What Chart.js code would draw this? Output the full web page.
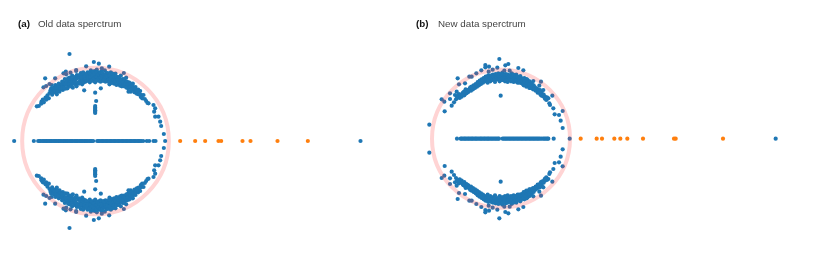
<!DOCTYPE html>
<html>
<head>
<meta charset="utf-8">
<title>Data spectrum</title>
<script src="https://cdn.jsdelivr.net/npm/chart.js@4/dist/chart.umd.min.js"></script>
<style>
  html, body { margin: 0; padding: 0; background: #fff; }
  #wrap { position: relative; width: 830px; height: 269px; overflow: hidden; }
  canvas { position: absolute; top: 0; }
  #chartA { left: 0; }
  #chartB { left: 415px; }
  .title { position: absolute; top: 18px; font: 9.8px "Liberation Sans", Arial, sans-serif; color: #444; white-space: nowrap; }
  .title b { color: #111; }
</style>
</head>
<body>
<div id="wrap">
  <canvas id="chartA" width="415" height="269"></canvas>
  <canvas id="chartB" width="415" height="269"></canvas>
  <div class="title" style="left:18px"><b>(a)</b></div>
  <div class="title" style="left:38px">Old data sperctrum</div>
  <div class="title" style="left:416px"><b>(b)</b></div>
  <div class="title" style="left:438px">New data sperctrum</div>
</div>
<script>
// values, eigenvalues come in conjugate pairs so upper and lower share Re
const aPairRe = [-176,-170,-163,-162,-158,-155,-150,-148,-144,-140,-138,-135,-133,-130,-127,-124,-120,-120,-116,-113,-110,-108,-104,-100,-98,-95,-92,-90,-88,-85,-82,-80,-78,-75,-72,-70,-68,-66,-62,-60,-58,-56,-52,-50,-46,-44,-40,-38,-36,-32,-30,-26,-24,-20,-18,-14,-12,-10,-6,-4,-2,0,2,4,8,10,12,14,18,20,22,26,28,30,32,36,38,42,44,46,50,52,56,58,60,64,66,70,72,76,80,82,86,88,92,96,98,100,104,106,110,112,116,120,124,128,130,134,138,144,148,152,156,159,174,179,176,179,189,194,197,205,-78,-5,10,19,41,85,-28,-34,16,-1,2,-1,-1,-1,-1,-1,-1,-151,-138,-121,-96,-89,-58,-156,-148,-131,99,119];
const aUpperIm = [104,105,112,118,124,116,130,124,137,128,144,152,158,139,150,160,168,146,140,156,172,148,163,178,153,168,186,157,200,174,164,182,190,205,170,196,160,180,188,170,210,198,176,190,182,204,170,196,186,200,178,192,206,184,198,212,188,204,180,196,210,186,200,214,190,206,180,196,210,186,200,192,212,178,204,188,198,170,190,206,180,196,172,188,202,178,192,170,184,196,172,186,164,178,190,166,158,176,168,148,160,172,152,162,142,154,146,150,138,138,126,120,114,113,108,98,88,73,73,58,45,21,261,237,232,218,223,204,224,152,158,145,120,105,100,96,92,88,84,188,171,188,203,208,213,161,165,168,148,151];
const aLowerIm = [-104,-105,-112,-118,-124,-116,-130,-124,-137,-128,-144,-152,-158,-139,-150,-160,-168,-146,-140,-156,-172,-148,-163,-178,-153,-168,-186,-157,-200,-174,-164,-182,-190,-205,-170,-196,-160,-180,-188,-170,-210,-198,-176,-190,-182,-204,-170,-196,-186,-200,-178,-192,-206,-184,-198,-212,-188,-204,-180,-196,-210,-186,-200,-214,-190,-206,-180,-196,-210,-186,-200,-192,-212,-178,-204,-188,-198,-170,-190,-206,-180,-196,-172,-188,-202,-178,-192,-170,-184,-196,-172,-186,-164,-178,-190,-166,-158,-176,-168,-148,-160,-172,-152,-162,-142,-154,-146,-150,-138,-138,-126,-120,-114,-113,-108,-98,-88,-73,-73,-58,-45,-21,-261,-237,-232,-218,-223,-204,-224,-152,-158,-145,-120,-105,-100,-96,-92,-88,-84,-188,-171,-188,-203,-208,-213,-161,-165,-168,-148,-151];
const aBandRe = [-128,-126,-122,-118,-115,-112,-106,-102,-100,-96,-94,-90,-87,-84,-82,-79,-76,-74,-72,-70,-66,-64,-62,-60,-57,-56,-53,-50,-48,-45,-42,-40,-37,-35,-33,-31,-28,-27,-25,-22,-19,-17,-15,-13,-11,-9,-7,-5,-3,-1,1,3,5,6,9,11,13,15,16,19,21,23,25,27,29,31,34,35,37,40,41,43,45,48,49,51,54,55,57,60,62,63,67,69,71,74,75,78,79,83,85,87,90,93,94,97,101,103,105,108,111,114,117,119,122,126,129,132,136,140];
const aBandUpper = [146,158,152,160,148,164,156,170,160,176,160,170,180,158,188,172,180,164,186,176,172,192,178,184,164,188,194,172,198,176,190,180,206,176,192,184,200,180,196,190,204,176,192,200,182,196,208,188,202,176,192,206,182,196,200,188,204,178,190,196,204,180,198,184,192,198,180,194,204,184,176,196,186,190,174,202,184,194,176,180,192,168,184,176,192,166,178,182,164,176,168,186,172,160,178,170,160,174,162,154,166,158,146,156,150,148,140,142,132,128];
const aBandLower = [-146,-158,-152,-160,-148,-164,-156,-170,-160,-176,-160,-170,-180,-158,-188,-172,-180,-164,-186,-176,-172,-192,-178,-184,-164,-188,-194,-172,-198,-176,-190,-180,-206,-176,-192,-184,-200,-180,-196,-190,-204,-176,-192,-200,-182,-196,-208,-188,-202,-176,-192,-206,-182,-196,-200,-188,-204,-178,-190,-196,-204,-180,-198,-184,-192,-198,-180,-194,-204,-184,-176,-196,-186,-190,-174,-202,-184,-194,-176,-180,-192,-168,-184,-176,-192,-166,-178,-182,-164,-176,-168,-186,-172,-160,-178,-170,-160,-174,-162,-154,-166,-158,-146,-156,-150,-148,-140,-142,-132,-128];
const aRealInside = [-244,-185,-172,-168,-165,-160,-156,-152,-148,-146,-142,-138,-134,-131,-127,-123,-120,-116,-112,-109,-105,-101,-97,-94,-90,-86,-83,-79,-75,-72,-68,-64,-60,-57,-53,-49,-45,-42,-38,-34,-31,-27,-23,-19,-15,-11,-7,5,9,13,17,21,25,29,33,37,41,45,49,53,57,61,65,69,73,77,81,85,89,93,97,101,105,109,113,117,121,125,129,133,137,143,154,161,174,180,209,795];
const aOutliers = [254,299,329,369,377,441,465,546,637];

const bPairRe = [-135,-130,-128,-124,-120,-118,-114,-110,-108,-104,-100,-98,-94,-90,-88,-84,-82,-78,-76,-72,-70,-66,-64,-60,-58,-54,-52,-48,-46,-42,-40,-38,-34,-32,-30,-26,-24,-20,-18,-16,-12,-10,-8,-4,-2,0,4,6,8,12,14,16,20,22,24,28,30,32,36,38,40,44,46,50,52,56,58,62,64,68,70,74,76,80,82,86,88,92,96,98,102,104,108,110,114,118,122,124,128,132,136,138,-5,22,13,-47,-47,-36,-11,10,26,52,67,-25,-59,-74,-37,-130,-95,-88,-108,-126,-153,-133,-138,-153,-178,-170,-141,-148,-169,-215,-1,120,97,77,115,127,117,154,132,142,145,147,157,185,161,174,179,185];
const bUpperIm = [118,124,130,122,132,126,138,130,142,136,146,140,150,144,156,148,160,152,164,156,170,160,174,164,178,168,182,172,186,176,168,190,180,172,188,176,192,182,170,194,178,186,196,172,190,180,198,176,188,172,194,182,170,190,178,186,172,196,180,170,188,176,192,168,182,174,188,166,178,160,182,170,156,176,162,172,152,166,148,160,154,144,150,138,146,134,140,128,132,120,116,124,239,224,220,221,214,216,213,204,204,212,205,207,205,196,201,181,186,186,166,163,136,141,131,119,118,111,109,99,82,42,129,171,173,179,159,146,146,129,126,121,106,101,91,83,73,71,54,32];
const bLowerIm = [-118,-124,-130,-122,-132,-126,-138,-130,-142,-136,-146,-140,-150,-144,-156,-148,-160,-152,-164,-156,-170,-160,-174,-164,-178,-168,-182,-172,-186,-176,-168,-190,-180,-172,-188,-176,-192,-182,-170,-194,-178,-186,-196,-172,-190,-180,-198,-176,-188,-172,-194,-182,-170,-190,-178,-186,-172,-196,-180,-170,-188,-176,-192,-168,-182,-174,-188,-166,-178,-160,-182,-170,-156,-176,-162,-172,-152,-166,-148,-160,-154,-144,-150,-138,-146,-134,-140,-128,-132,-120,-116,-124,-239,-224,-220,-221,-214,-216,-213,-204,-204,-212,-205,-207,-205,-196,-201,-181,-186,-186,-166,-163,-136,-141,-131,-119,-118,-111,-109,-99,-82,-42,-129,-171,-173,-179,-159,-146,-146,-129,-126,-121,-106,-101,-91,-83,-73,-71,-54,-32];
const bBandRe = [-132,-126,-122,-116,-112,-106,-102,-96,-92,-86,-80,-74,-68,-62,-56,-50,-44,-41,-36,-33,-28,-28,-22,-19,-17,-14,-11,-9,-6,-5,-3,-1,2,3,5,7,10,11,13,15,18,19,21,23,26,27,29,31,34,35,37,39,42,43,45,47,49,51,54,55,57,60,61,65,67,69,72,73,78,79,84,85,90,94,100,106,112,116,120,126,130,134];
const bBandUpper = [126,134,128,132,140,148,138,146,154,152,158,160,166,170,176,178,180,186,178,186,182,190,186,178,190,186,192,180,188,178,194,184,188,176,192,182,178,190,184,176,186,192,178,184,180,190,176,188,184,176,192,180,184,172,182,176,186,174,180,168,178,172,182,172,178,166,172,160,166,158,162,152,158,152,148,146,142,138,130,130,124,122];
const bBandLower = [-126,-134,-128,-132,-140,-148,-138,-146,-154,-152,-158,-160,-166,-170,-176,-178,-180,-186,-178,-186,-182,-190,-186,-178,-190,-186,-192,-180,-188,-178,-194,-184,-188,-176,-192,-182,-178,-190,-184,-176,-186,-192,-178,-184,-180,-190,-176,-188,-184,-176,-192,-180,-184,-172,-182,-176,-186,-174,-180,-168,-178,-172,-182,-172,-178,-166,-172,-160,-166,-158,-162,-152,-158,-152,-148,-146,-142,-138,-130,-130,-124,-122];
const bRealInside = [-132,-121,-118,-114,-110,-107,-103,-99,-96,-92,-88,-85,-81,-77,-74,-70,-66,-62,-59,-55,-51,-48,-44,-40,-37,-33,-29,-25,-21,-17,-13,-9,-6,5,9,13,17,21,25,29,33,37,41,45,49,53,57,61,65,69,73,77,81,85,89,93,97,101,105,109,113,117,122,127,131,135,139,142,158,206,824];
const bOutliers = [239,287,303,340,358,379,426,519,524,666];

const aRadius = 220;
const bRadius = 207;
const blue = '#1f77b4';
const orange = '#ff7f0e';

// ring goes on top of the points, that is where the purple tint comes from
const ringPlugin = {
  id: 'ring',
  afterDatasetsDraw(chart, args, opts) {
    const { ctx, scales } = chart;
    const cx = scales.x.getPixelForValue(0);
    const cy = scales.y.getPixelForValue(0);
    const r = scales.x.getPixelForValue(opts.radius) - cx;
    ctx.save();
    ctx.beginPath();
    ctx.arc(cx, cy, r, 0, Math.PI * 2);
    ctx.strokeStyle = 'rgba(255, 60, 60, 0.22)';
    ctx.lineWidth = 4;
    ctx.stroke();
    ctx.restore();
  }
};

function toPoints(xs, ys) {
  return xs.map((x, i) => ({ x: x, y: ys[i] }));
}

function spectrum(id, groups, realInside, outliers, radius, xRange, yRange) {
  let bluePts = realInside.map(x => ({ x: x, y: 0 }));
  groups.forEach(g => {
    bluePts = bluePts.concat(toPoints(g[0], g[1]), toPoints(g[0], g[2]));
  });
  const orangePts = outliers.map(x => ({ x: x, y: 0 }));
  return new Chart(id, {
    type: 'scatter',
    plugins: [ringPlugin],
    data: {
      datasets: [
        { data: bluePts, backgroundColor: blue, borderWidth: 0, pointRadius: 2.1 },
        { data: orangePts, backgroundColor: orange, borderWidth: 0, pointRadius: 2.1 }
      ]
    },
    options: {
      responsive: false,
      animation: false,
      layout: { padding: 0, autoPadding: false },
      scales: {
        x: { display: false, min: xRange[0], max: xRange[1] },
        y: { display: false, min: yRange[0], max: yRange[1] }
      },
      plugins: {
        legend: { display: false },
        tooltip: { enabled: false },
        ring: { radius: radius }
      }
    }
  });
}

spectrum('chartA', [[aPairRe, aUpperIm, aLowerIm], [aBandRe, aBandUpper, aBandLower]], aRealInside, aOutliers, aRadius, [-286.5, 958.5], [-384, 423]);
spectrum('chartB', [[bPairRe, bUpperIm, bLowerIm], [bBandRe, bBandUpper, bBandLower]], bRealInside, bOutliers, bRadius, [-258, 987], [-391, 416]);
</script>
</body>
</html>
